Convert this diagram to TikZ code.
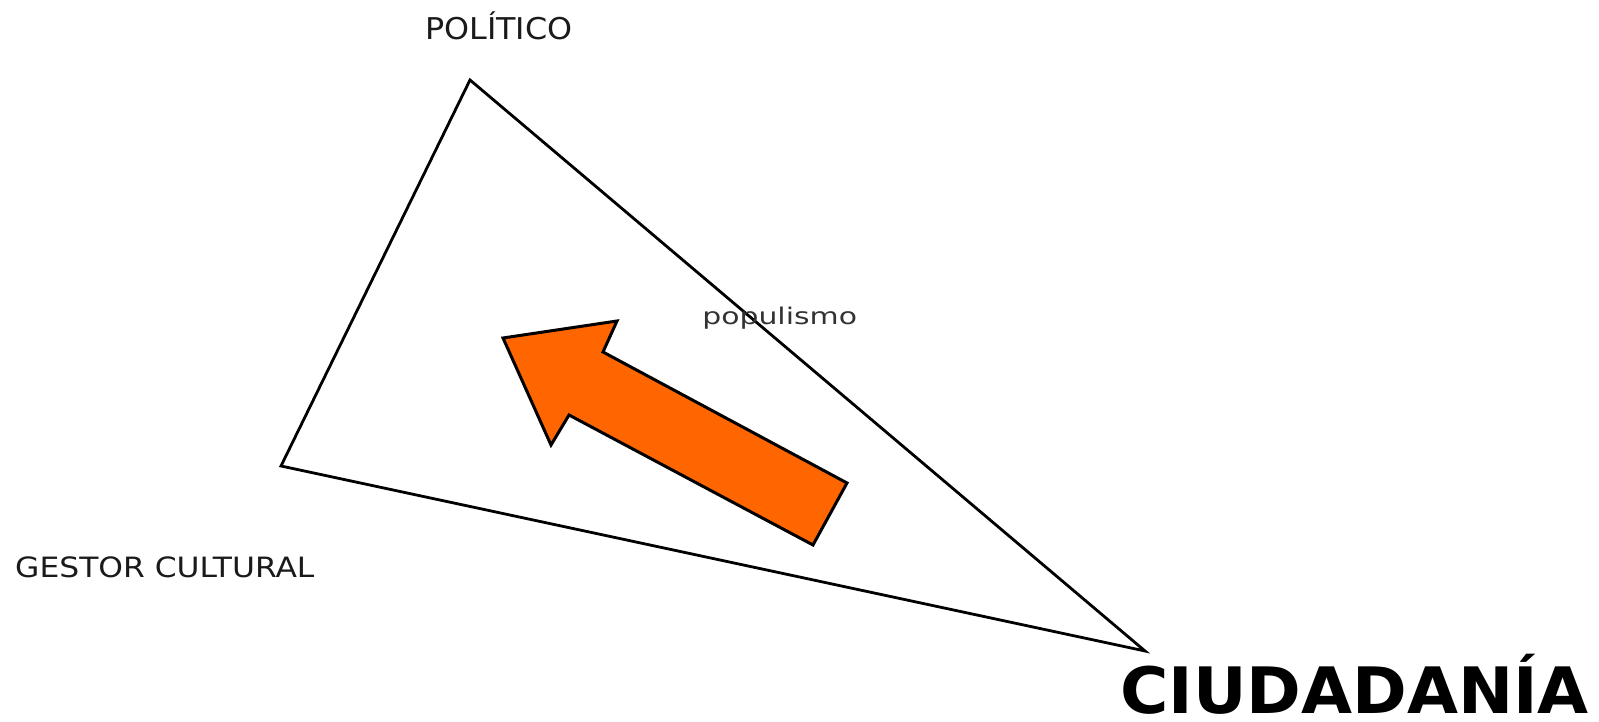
\documentclass[tikz,border=0pt]{standalone}
\usepackage{fontspec}
\setmainfont{DejaVu Sans}
\definecolor{arroworange}{HTML}{FF6600}
\definecolor{txt}{HTML}{1A1A1A}
\begin{document}
\begin{tikzpicture}[x=1pt,y=1pt,
  lbl/.style={inner sep=0pt,anchor=base west,text=txt},
  tri/.style={draw=black,line width=2.8pt,line join=miter},
  bigarrow/.style={fill=arroworange,draw=black,line width=3pt,line join=miter}]
\useasboundingbox (0,0) rectangle (1599,722);
% triangle vertices
\coordinate (P) at (470,642);
\coordinate (G) at (281,256);
\coordinate (C) at (1145,71);
\draw[tri] (P) -- (G) -- (C) -- cycle;
% orange arrow
\draw[bigarrow] (503,384) -- (617,401) -- (603,370) -- (847,239) -- (813,177) -- (569,307) -- (551,277) -- cycle;
% labels
\node[lbl,font=\fontsize{30}{30}\selectfont,xscale=1.06] (pol) at (425,682) {POLÍTICO};
\node[lbl,font=\fontsize{28}{28}\selectfont,xscale=1.12] (ges) at (15,144) {GESTOR CULTURAL};
\node[lbl,font=\fontsize{23}{23}\selectfont,xscale=1.3,text=black!80] (pop) at (702,397) {populismo};
\node[lbl,font=\bfseries\fontsize{64}{64}\selectfont,xscale=1.03,text=black] (ciu) at (1120,8) {CIUDADANÍA};
\end{tikzpicture}
\end{document}
